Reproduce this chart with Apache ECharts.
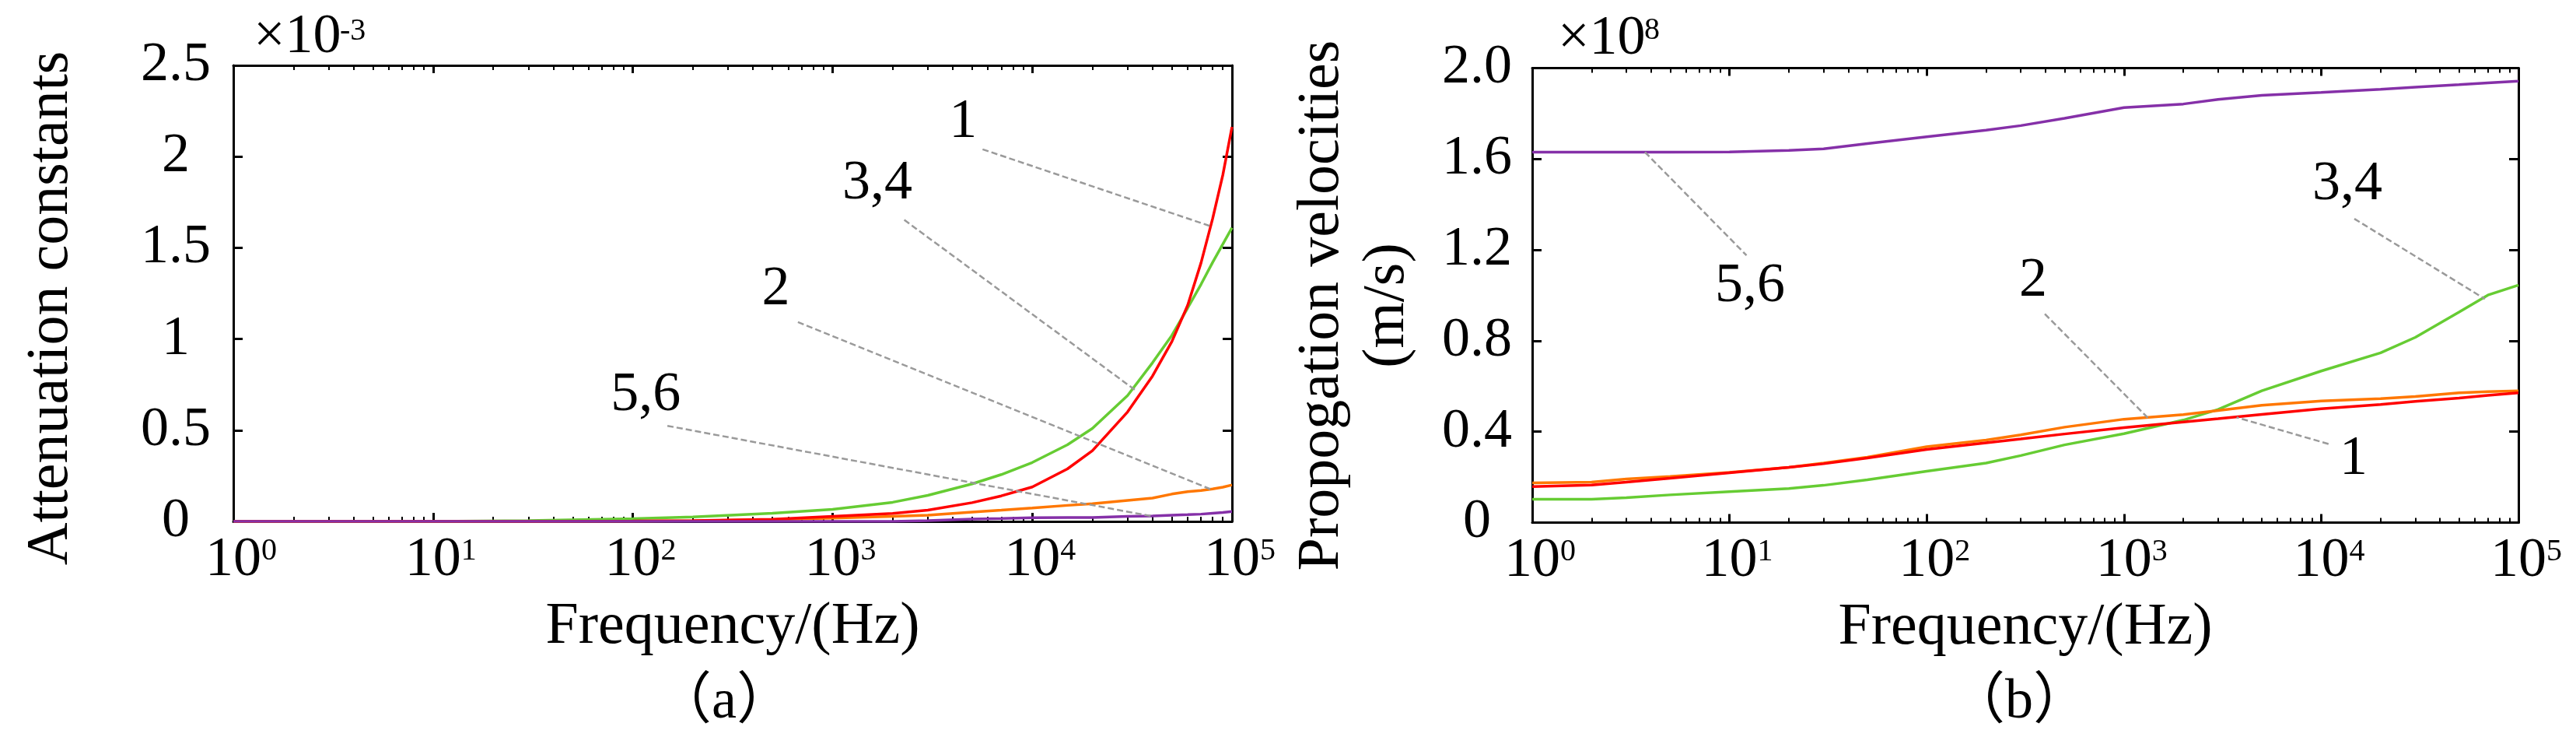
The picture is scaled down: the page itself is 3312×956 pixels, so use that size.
<!DOCTYPE html>
<html>
<head>
<meta charset="utf-8">
<script src="https://cdn.jsdelivr.net/npm/echarts@6/dist/echarts.min.js"></script>
<style>
html,body{margin:0;padding:0;background:#ffffff;}
#chart{width:3312px;height:956px;}
</style>
</head>
<body>
<div id="chart"></div>
<script>
// ---------------- data: panel (a) attenuation constants (x1e-3) ----------------
const freqA = [1, 10, 30, 100, 200, 500, 1000, 2000, 3000, 5000, 7000, 10000, 15000, 20000, 30000, 40000, 50000, 60000, 70000, 80000, 90000, 100000];
const attn1  = [0, 0, 0, 0.002, 0.004, 0.012, 0.028, 0.044, 0.062, 0.103, 0.140, 0.189, 0.288, 0.388, 0.600, 0.797, 0.986, 1.185, 1.418, 1.660, 1.900, 2.163];
const attn2  = [0, 0, 0, 0.001, 0.003, 0.010, 0.018, 0.028, 0.034, 0.051, 0.062, 0.074, 0.088, 0.097, 0.115, 0.128, 0.150, 0.163, 0.170, 0.178, 0.188, 0.200];
const attn34 = [0, 0, 0.004, 0.015, 0.025, 0.045, 0.066, 0.105, 0.143, 0.206, 0.257, 0.323, 0.420, 0.510, 0.690, 0.870, 1.020, 1.170, 1.300, 1.420, 1.520, 1.610];
const attn56 = [0, 0, 0, 0, 0, 0, 0, 0, 0.004, 0.013, 0.016, 0.020, 0.021, 0.021, 0.028, 0.030, 0.034, 0.037, 0.040, 0.045, 0.049, 0.054];

// ---------------- data: panel (b) propagation velocities (x1e8 m/s) ----------------
const freqB = [1, 2, 3, 5, 10, 20, 30, 50, 100, 200, 300, 500, 1000, 2000, 3000, 5000, 10000, 20000, 30000, 50000, 70000, 100000];
const vel1  = [0.158, 0.165, 0.178, 0.195, 0.219, 0.243, 0.259, 0.284, 0.322, 0.351, 0.368, 0.390, 0.418, 0.443, 0.457, 0.476, 0.501, 0.520, 0.533, 0.548, 0.560, 0.571];
const vel2  = [0.175, 0.178, 0.192, 0.203, 0.221, 0.243, 0.262, 0.288, 0.334, 0.363, 0.386, 0.420, 0.455, 0.475, 0.493, 0.516, 0.535, 0.545, 0.555, 0.571, 0.576, 0.580];
const vel34 = [0.103, 0.103, 0.110, 0.122, 0.136, 0.150, 0.164, 0.188, 0.226, 0.262, 0.295, 0.342, 0.391, 0.451, 0.498, 0.580, 0.667, 0.747, 0.815, 0.926, 1.001, 1.045];
const vel56 = [1.630, 1.630, 1.630, 1.630, 1.631, 1.638, 1.645, 1.668, 1.698, 1.727, 1.747, 1.779, 1.826, 1.842, 1.862, 1.880, 1.893, 1.907, 1.916, 1.927, 1.935, 1.943];

// ---------------- curve labels and leader lines (data coordinates) ----------------
const labelTexts   = ['1', '2', '3,4', '5,6'];
const labelPosA    = [[4500, 2.19], [520, 1.27], [1676, 1.853], [116, 0.691]];
const leaderFromA  = [[5640, 2.04], [671, 1.093], [2286, 1.653], [149, 0.524]];
const leaderToA    = [[78340, 1.618], [78340, 0.176], [32660, 0.721], [39450, 0.029]];
const labelPosB    = [[14590, 0.279], [346, 1.063], [13580, 1.488], [12.7, 1.039]];
const leaderFromB  = [[10890, 0.346], [397, 0.918], [14720, 1.337], [3.73, 1.630]];
const leaderToB    = [[3724, 0.463], [1324, 0.460], [67610, 0.984], [12.2, 1.176]];

// ---------------- tick labels ----------------
const yTicksA = [0, 0.5, 1, 1.5, 2, 2.5];
const yTickLabelsA = ['0', '0.5', '1', '1.5', '2', '2.5'];
const yTicksB = [0, 0.4, 0.8, 1.2, 1.6, 2.0];
const yTickLabelsB = ['0', '0.4', '0.8', '1.2', '1.6', '2.0'];
const minorMultipliers = [2, 3, 4, 5, 6, 7, 8, 9];
const decades = [1, 10, 100, 1000, 10000];

// ---------------- styling ----------------
const FONT = 'Liberation Serif';
const seriesColors = ['#ff0000', '#ff7700', '#66cc33', '#8530a8'];
const BLACK = '#000000';

const minorTickExps = [];
decades.forEach(d => minorMultipliers.forEach(m => minorTickExps.push(Math.log10(d * m))));

const gridA = { left: 300, top: 84, width: 1284, height: 586 };
const gridB = { left: 1970, top: 87.5, width: 1268, height: 584 };

function pairs(xs, ys) { return xs.map((x, i) => [x, ys[i]]); }

function tickLookup(ticks, labels) {
  return function (v) {
    let best = 0;
    for (let i = 1; i < ticks.length; i++) if (Math.abs(ticks[i] - v) < Math.abs(ticks[best] - v)) best = i;
    return labels[best];
  };
}

const xRich = {
  p: { width: 20, fontSize: 72, fontFamily: FONT },
  b: { fontSize: 72, fontFamily: FONT, color: BLACK },
  s: { fontSize: 40, fontFamily: FONT, color: BLACK, verticalAlign: 'top', padding: [4, 0, 0, 0] }
};

function mainX(gridIndex, position) {
  const bottom = position === 'bottom';
  return {
    type: 'log', logBase: 10, min: 1, max: 100000, gridIndex: gridIndex, position: position,
    splitNumber: 5,
    axisLine: { show: true, onZero: false, lineStyle: { color: BLACK, width: 3 } },
    axisTick: { show: true, inside: true, length: bottom ? 11 : 10, lineStyle: { color: BLACK, width: 3 } },
    axisLabel: bottom ? {
      show: true, margin: 14,
      formatter: function (v) { const n = Math.round(Math.log10(v)); return '{p| }{b|10}{s|' + n + '}'; },
      rich: xRich
    } : { show: false },
    splitLine: { show: false },
    minorTick: { show: false },
    name: bottom ? 'Frequency/(Hz)' : '',
    nameLocation: 'middle', nameGap: 98,
    nameTextStyle: { fontSize: 76, fontFamily: FONT, color: BLACK }
  };
}

function minorX(gridIndex, position) {
  return {
    type: 'value', min: 0, max: 5, gridIndex: gridIndex, position: position,
    axisLine: { show: false },
    axisTick: { show: true, inside: true, length: 6, customValues: minorTickExps, lineStyle: { color: BLACK, width: 2 } },
    axisLabel: { show: false },
    splitLine: { show: false }
  };
}

function hiddenY(gridIndex) {
  return { type: 'value', min: 0, max: 1, gridIndex: gridIndex, show: false, splitLine: { show: false } };
}

function mainY(gridIndex, position, max, interval, ticks, labels, name, gap, margin, pad, lineHeight) {
  const left = position === 'left';
  return {
    type: 'value', min: 0, max: max, interval: interval, gridIndex: gridIndex, position: position,
    axisLine: { show: true, lineStyle: { color: BLACK, width: 3 } },
    axisTick: { show: true, inside: true, length: 12, lineStyle: { color: BLACK, width: 3 } },
    axisLabel: left ? {
      show: true, align: 'center', margin: margin, fontSize: 72, fontFamily: FONT, color: BLACK,
      formatter: tickLookup(ticks, labels)
    } : { show: false },
    splitLine: { show: false },
    name: left ? name : '',
    nameLocation: 'middle', nameGap: gap,
    nameTextStyle: { fontSize: 76, fontFamily: FONT, color: BLACK, padding: pad, lineHeight: lineHeight, align: 'center' }
  };
}

function leaderMarks(i, pos, from, to) {
  return {
    markLine: {
      silent: true, symbol: ['none', 'none'], animation: false,
      label: { show: false },
      lineStyle: { color: '#9a9a9a', width: 2.5, type: [8, 4] },
      data: [[{ coord: from[i] }, { coord: to[i] }]]
    },
    markPoint: {
      silent: true, animation: false, symbol: 'circle', symbolSize: 1,
      itemStyle: { color: 'rgba(0,0,0,0)' },
      label: { show: true, position: 'inside', formatter: '{b}', fontSize: 72, fontFamily: FONT, color: BLACK },
      data: [{ name: labelTexts[i], coord: pos[i] }]
    }
  };
}

function curve(name, xIdx, yIdx, xs, ys, color, marks) {
  return Object.assign({
    name: name, type: 'line', xAxisIndex: xIdx, yAxisIndex: yIdx,
    data: pairs(xs, ys), showSymbol: false, symbol: 'none', smooth: false,
    lineStyle: { color: color, width: 3.5 }, itemStyle: { color: color },
    animation: false
  }, marks);
}

const option = {
  backgroundColor: '#ffffff',
  animation: false,
  grid: [
    Object.assign({ outerBoundsMode: 'none', containLabel: false }, gridA),
    Object.assign({ outerBoundsMode: 'none', containLabel: false }, gridA),
    Object.assign({ outerBoundsMode: 'none', containLabel: false }, gridB),
    Object.assign({ outerBoundsMode: 'none', containLabel: false }, gridB)
  ],
  xAxis: [
    mainX(0, 'bottom'), mainX(0, 'top'),
    minorX(1, 'bottom'), minorX(1, 'top'),
    mainX(2, 'bottom'), mainX(2, 'top'),
    minorX(3, 'bottom'), minorX(3, 'top')
  ],
  yAxis: [
    mainY(0, 'left', 2.5, 0.5, yTicksA, yTickLabelsA, 'Attenuation constants', 196, 74, [0, 38, 0, 0], 76),
    mainY(0, 'right', 2.5, 0.5, yTicksA, yTickLabelsA, '', 0, 0, 0, 76),
    hiddenY(1),
    mainY(2, 'left', 2.0, 0.4, yTicksB, yTickLabelsB, 'Propogation velocities\n(m/s)', 144, 71, [0, 26, 0, 0], 84),
    mainY(2, 'right', 2.0, 0.4, yTicksB, yTickLabelsB, '', 0, 0, 0, 76),
    hiddenY(3)
  ],
  series: [
    curve('3,4', 0, 0, freqA, attn34, seriesColors[2], leaderMarks(2, labelPosA, leaderFromA, leaderToA)),
    curve('2', 0, 0, freqA, attn2, seriesColors[1], leaderMarks(1, labelPosA, leaderFromA, leaderToA)),
    curve('1', 0, 0, freqA, attn1, seriesColors[0], leaderMarks(0, labelPosA, leaderFromA, leaderToA)),
    curve('5,6', 0, 0, freqA, attn56, seriesColors[3], leaderMarks(3, labelPosA, leaderFromA, leaderToA)),
    curve('3,4', 4, 3, freqB, vel34, seriesColors[2], leaderMarks(2, labelPosB, leaderFromB, leaderToB)),
    curve('2', 4, 3, freqB, vel2, seriesColors[1], leaderMarks(1, labelPosB, leaderFromB, leaderToB)),
    curve('1', 4, 3, freqB, vel1, seriesColors[0], leaderMarks(0, labelPosB, leaderFromB, leaderToB)),
    curve('5,6', 4, 3, freqB, vel56, seriesColors[3], leaderMarks(3, labelPosB, leaderFromB, leaderToB))
  ],
  graphic: [
    { type: 'text', x: 326, y: 48, style: { text: '×10', font: '72px "Liberation Serif"', fill: BLACK, align: 'left', verticalAlign: 'middle', textAlign: 'left', textVerticalAlign: 'middle' } },
    { type: 'text', x: 437, y: 40, style: { text: '-3', font: '40px "Liberation Serif"', fill: BLACK, align: 'left', verticalAlign: 'middle', textAlign: 'left', textVerticalAlign: 'middle' } },
    { type: 'text', x: 2003, y: 50, style: { text: '×10', font: '72px "Liberation Serif"', fill: BLACK, align: 'left', verticalAlign: 'middle', textAlign: 'left', textVerticalAlign: 'middle' } },
    { type: 'text', x: 2114, y: 39, style: { text: '8', font: '40px "Liberation Serif"', fill: BLACK, align: 'left', verticalAlign: 'middle', textAlign: 'left', textVerticalAlign: 'middle' } },
    { type: 'text', x: 931, y: 903, style: { text: '（a）', font: '72px "Liberation Serif", "Noto Sans CJK SC"', fill: BLACK, align: 'center', verticalAlign: 'middle', textAlign: 'center', textVerticalAlign: 'middle' } },
    { type: 'text', x: 2596, y: 903, style: { text: '（b）', font: '72px "Liberation Serif", "Noto Sans CJK SC"', fill: BLACK, align: 'center', verticalAlign: 'middle', textAlign: 'center', textVerticalAlign: 'middle' } }
  ]
};

const chart = echarts.init(document.getElementById('chart'), null, { renderer: 'canvas', width: 3312, height: 956 });
chart.setOption(option);
</script>
</body>
</html>
